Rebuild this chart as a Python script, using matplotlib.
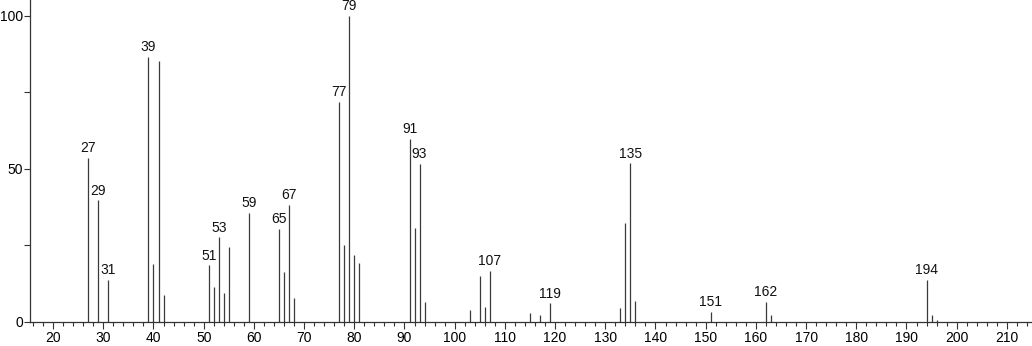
import matplotlib
matplotlib.use("Agg")
import matplotlib.pyplot as plt
from matplotlib.ticker import MultipleLocator

plt.rcParams['font.family'] = ['Liberation Sans', 'DejaVu Sans']

mz = [27, 29, 31, 39, 40, 41, 42, 51, 52, 53, 54, 55, 59, 65, 66, 67, 68,
      77, 78, 79, 80, 81, 91, 92, 93, 94, 103, 105, 106, 107, 115, 117, 119,
      133, 134, 135, 136, 151, 162, 163, 194, 195, 196]
intensity = [53.5, 39.7, 13.6, 86.7, 18.8, 85.3, 8.7, 18.4, 11.2, 27.6, 9.5, 24.5, 35.6,
             30.3, 16.4, 38.1, 7.9, 71.8, 25.1, 100.0, 21.8, 19.2, 59.7, 30.5, 51.5, 6.5,
             3.9, 15.0, 4.9, 16.5, 2.8, 2.3, 6.0, 4.6, 32.2, 51.8, 6.9, 3.2, 6.5, 2.3,
             13.6, 2.1, 0.6]
labeled = [27, 29, 31, 39, 51, 53, 59, 65, 67, 77, 79, 91, 93, 107, 119, 135, 151, 162, 194]

fig = plt.figure(figsize=(10.32, 3.46), dpi=100)
ax = fig.add_axes([30/1032, (346-321.7)/346, 1 - 30/1032, 321.7/346])

ax.vlines(mz, 0, intensity, colors='#3a3a3a', linewidth=0.9)
for m, v in zip(mz, intensity):
    if m in labeled:
        ax.annotate(str(m), (m, v), xytext=(0, 2), textcoords='offset points',
                    ha='center', va='bottom', fontsize=10, color='#111111')

ax.set_xlim(15.4, 215)
ax.set_ylim(0, 105.2)
ax.xaxis.set_major_locator(MultipleLocator(10))
ax.xaxis.set_minor_locator(MultipleLocator(2))
ax.set_yticks([0, 25, 50, 75, 100])
ax.set_yticklabels(['0', '', '50', '', '100'])
ax.tick_params(axis='x', which='major', length=5, width=0.8, labelsize=10, pad=2, color='#333333')
ax.tick_params(axis='x', which='minor', length=3, width=0.8, color='#333333')
ax.tick_params(axis='y', which='major', length=4, width=0.8, labelsize=10, pad=1, color='#333333')
for s in ['top', 'right']:
    ax.spines[s].set_visible(False)
for s in ['left', 'bottom']:
    ax.spines[s].set_linewidth(0.9)
    ax.spines[s].set_color('#333333')

fig.savefig('out.png', dpi=100)
